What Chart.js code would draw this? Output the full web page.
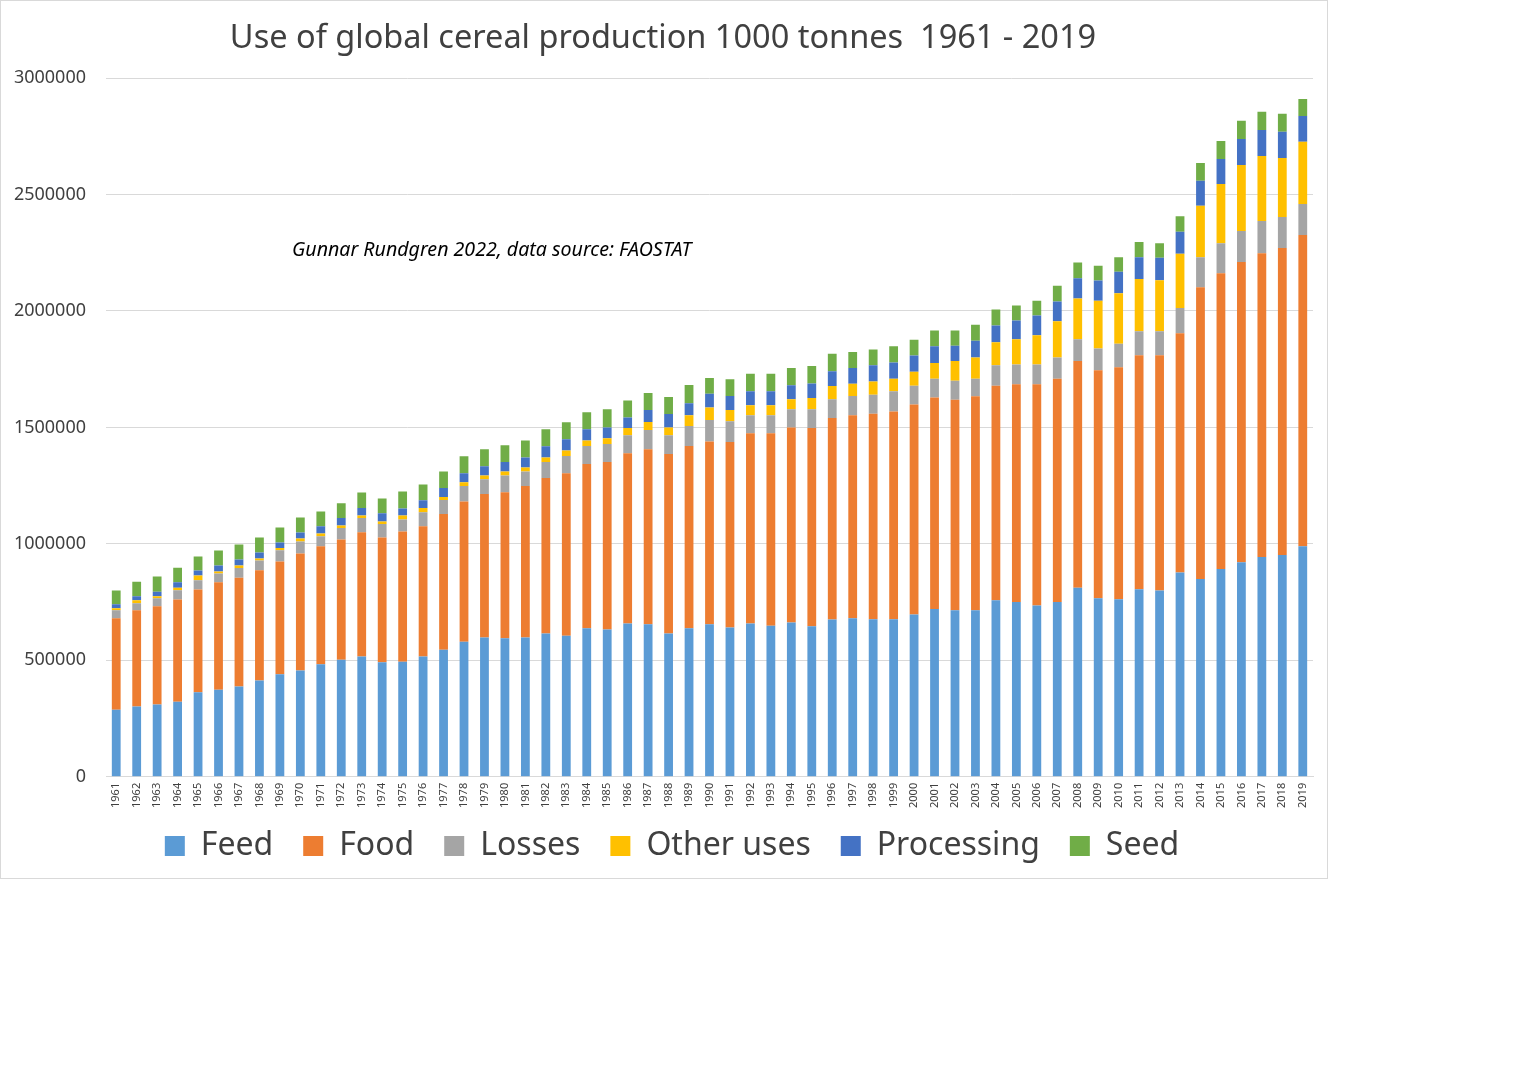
<!DOCTYPE html>
<html>
<head>
<meta charset="utf-8">
<title>Use of global cereal production</title>
<script src="https://cdn.jsdelivr.net/npm/chart.js@4.4.1/dist/chart.umd.min.js"></script>
<style>
  body { margin: 0; background: #fff; font-family: 'Noto Sans', sans-serif; }
  #box { position: absolute; left: 0; top: 0; width: 1328px; height: 879px; border: 1px solid #d9d9d9; box-sizing: border-box; }
  #note { position: absolute; left: 291px; top: 234px; font-size: 19.6px; font-style: italic; color: #000; white-space: nowrap; }
</style>
</head>
<body>
<div id="box">
  <canvas id="myChart"></canvas>
  <div id="note">Gunnar Rundgren 2022, data source: FAOSTAT</div>
</div>
<script>
'use strict';

// 1000 tonnes
let years = [];
for (let y = 1961; y <= 2019; y++) {
  years.push(String(y));
}

let feed = [288000, 302000, 311000, 322000, 363000, 374000, 388000, 414000, 440000, 457000, 483000, 503000,
  517000, 492000, 494000, 517000, 546000, 580000, 598000, 595000, 598000, 615000, 606000, 638000,
  632000, 658000, 655000, 615000, 638000, 655000, 641000, 658000, 649000, 663000, 646000, 675000, 681000,
  676000, 676000, 697000, 721000, 715000, 715000, 758000, 751000, 736000, 751000, 812000, 767000,
  762000, 805000, 800000, 877000, 849000, 892000, 921000, 944000, 952000, 990000];

let food = [393000, 413000, 421000, 439000, 441000, 461000, 467000, 473000, 484000, 502000, 507000, 516000,
  533000, 535000, 559000, 559000, 582000, 602000, 616000, 627000, 650000, 668000, 697000, 705000,
  719000, 731000, 751000, 771000, 782000, 785000, 796000, 817000, 826000, 837000, 851000, 865000, 871000,
  883000, 892000, 901000, 907000, 904000, 919000, 921000, 934000, 949000, 958000, 973000, 978000,
  996000, 1005000, 1010000, 1027000, 1253000, 1270000, 1289000, 1304000, 1318000, 1336000];

let losses = [34000, 30000, 35000, 40000, 40000, 38000, 41000, 42000, 49000, 51000, 43000, 49000,
  61000, 58000, 52000, 60000, 60000, 66000, 63000, 72000, 63000, 68000, 74000, 77000,
  78000, 77000, 83000, 80000, 86000, 92000, 89000, 77000, 77000, 78000, 81000, 81000, 83000,
  81000, 87000, 81000, 81000, 81000, 75000, 88000, 85000, 85000, 91000, 93000, 94000,
  101000, 103000, 103000, 109000, 129000, 129000, 133000, 138000, 133000, 133000];

let otherUses = [9000, 13000, 8000, 11000, 20000, 8000, 11000, 8000, 9000, 13000, 12000, 11000,
  11000, 11000, 17000, 18000, 13000, 17000, 17000, 17000, 17000, 20000, 24000, 24000,
  25000, 31000, 34000, 34000, 46000, 54000, 49000, 43000, 43000, 43000, 48000, 57000, 52000,
  57000, 54000, 60000, 67000, 85000, 91000, 99000, 108000, 126000, 156000, 175000, 205000,
  217000, 224000, 219000, 232000, 221000, 254000, 284000, 279000, 254000, 267000];

let processing = [17000, 17000, 20000, 23000, 22000, 26000, 26000, 26000, 24000, 26000, 31000, 32000,
  32000, 35000, 30000, 33000, 39000, 38000, 39000, 40000, 43000, 48000, 48000, 48000,
  46000, 46000, 52000, 58000, 52000, 58000, 60000, 60000, 60000, 60000, 63000, 63000, 68000,
  70000, 70000, 70000, 72000, 66000, 72000, 72000, 81000, 84000, 85000, 87000, 87000,
  92000, 94000, 96000, 95000, 107000, 107000, 111000, 112000, 112000, 111000];

let seed = [59000, 63000, 65000, 63000, 60000, 65000, 64000, 64000, 64000, 64000, 63000, 63000,
  67000, 64000, 73000, 68000, 71000, 73000, 73000, 72000, 73000, 73000, 73000, 73000,
  78000, 73000, 73000, 73000, 78000, 68000, 72000, 75000, 75000, 74000, 75000, 75000, 69000,
  67000, 69000, 67000, 68000, 65000, 69000, 68000, 64000, 64000, 67000, 68000, 63000,
  63000, 65000, 63000, 67000, 76000, 78000, 78000, 78000, 77000, 73000];

let seriesNames = ['Feed', 'Food', 'Losses', 'Other uses', 'Processing', 'Seed'];
let seriesData = [feed, food, losses, otherUses, processing, seed];
let seriesColors = ['#5b9bd5', '#ed7d31', '#a5a5a5', '#ffc000', '#4472c4', '#70ad47'];

let yTicks = [0, 500000, 1000000, 1500000, 2000000, 2500000, 3000000];

let textColor = '#404040';
let gridColor = '#d9d9d9';

let datasets = [];
for (let i = 0; i < seriesNames.length; i++) {
  datasets.push({
    label: seriesNames[i],
    data: seriesData[i],
    backgroundColor: seriesColors[i],
    borderWidth: 0,
    categoryPercentage: 1,
    barPercentage: 0.43
  });
}

// scales clip their labels to their own box; widen the boxes again after layout
// so the year labels and the y labels are not cut off. Also nudge title/legend.
let unclipLabels = {
  id: 'unclipLabels',
  afterLayout: function(chart) {
    let x = chart.scales.x;
    x.bottom += 14;
    x.height += 14;
    let y = chart.scales.y;
    y.width += y.left;
    y.left = 0;
    chart.titleBlock.left -= 6;
    chart.titleBlock.right -= 6;
    chart.legend.left += 3;
    chart.legend.right += 3;
  }
};

Chart.defaults.font.family = "'Noto Sans', sans-serif";
Chart.defaults.color = textColor;

let ctx = document.getElementById('myChart').getContext('2d');
let myChart = new Chart(ctx, {
  type: 'bar',
  data: {
    labels: years,
    datasets: datasets
  },
  plugins: [unclipLabels],
  options: {
    responsive: true,
    maintainAspectRatio: false,
    animation: false,
    layout: {
      padding: { left: 24, right: 14, top: 0, bottom: 6 }
    },
    plugins: {
      title: {
        display: true,
        text: 'Use of global cereal production 1000 tonnes  1961 - 2019',
        color: textColor,
        font: { size: 32.5, weight: 'normal' },
        padding: { top: 18, bottom: 20 }
      },
      legend: {
        position: 'bottom',
        labels: {
          boxWidth: 20,
          boxHeight: 20,
          padding: 30,
          color: textColor,
          font: { size: 32 }
        }
      },
      tooltip: { enabled: false }
    },
    scales: {
      x: {
        stacked: true,
        grid: { display: false, drawTicks: false },
        border: { display: true, color: gridColor },
        afterFit: function(axis) {
          // let the year labels run into the legend's empty top padding
          axis.height = axis.height - 14;
        },
        ticks: {
          autoSkip: false,
          minRotation: 90,
          maxRotation: 90,
          padding: 6,
          color: textColor,
          font: { size: 11 }
        }
      },
      y: {
        stacked: true,
        min: yTicks[0],
        max: yTicks[yTicks.length - 1],
        grid: { color: gridColor, drawTicks: false },
        border: { display: false },
        afterFit: function(axis) {
          axis.width = 81;
        },
        afterBuildTicks: function(axis) {
          axis.ticks = yTicks.map(function(v) { return { value: v }; });
        },
        ticks: {
          padding: 20,
          color: textColor,
          font: { size: 18 },
          callback: function(value) { return String(value); }
        }
      }
    }
  }
});
</script>
</body>
</html>
